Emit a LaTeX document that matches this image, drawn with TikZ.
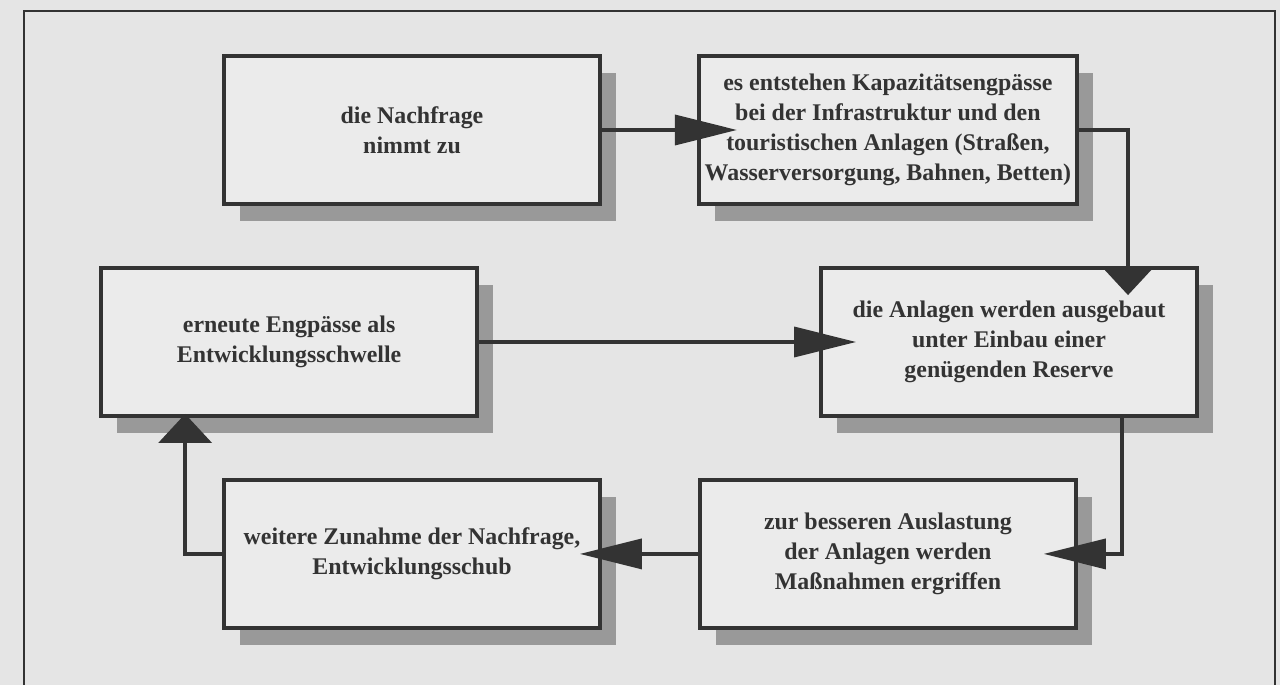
\documentclass[tikz,border=0pt]{standalone}
\usepackage{fontspec}
\setmainfont{Liberation Serif}
\usetikzlibrary{arrows.meta,calc,shadows}

\tikzstyle{block} = [draw, rectangle, minimum height=2.96cm, minimum width=7.52cm,
                     align=center, font=\fontsize{13.6}{17}\selectfont\bfseries]
\tikzstyle{conn} = [line width=2pt, -{Triangle[length=1.24cm,width=0.6cm]}]
\tikzstyle{connv} = [line width=2pt, -{Triangle[length=0.58cm,width=1.06cm]}]

\begin{document}
\begin{tikzpicture} [x=0.02cm, y=-0.02cm, node distance=2cm]

\def\colL{black!80};
\def\fillB{black!8};
\def\colSh{black!40};
\def\colBg{black!10};

\useasboundingbox (0,0) rectangle (1280,685);
\fill[\colBg] (0,0) rectangle (1280,685);

% frame
\draw[\colL,line width=1.1pt]
     (24,685) -- (24,11) -- (1275,11) -- (1275,685);

\tikzset{shade box/.style={drop shadow={shadow xshift=0.32cm,
         shadow yshift=-0.34cm, fill=\colSh, opacity=1}}}

\node[block,shade box,line width=2.2pt,
      draw=\colL,fill=\fillB,text=\colL]
      (nachfrage) at (412,130) {die Nachfrage\\nimmt zu};

\node[block,shade box,line width=2.2pt,
      right of=nachfrage,node distance=9.52cm,
      draw=\colL,fill=\fillB,text=\colL]
      (engpass) {es entstehen Kapazitätsengpässe\\bei der Infrastruktur und den\\touristischen Anlagen (Straßen,\\Wasserversorgung, Bahnen, Betten)};

\node[block,shade box,line width=2.2pt,
      draw=\colL,fill=\fillB,text=\colL]
      (ausbau) at (1009,342) {die Anlagen werden ausgebaut\\unter Einbau einer\\genügenden Reserve};

\node[block,shade box,line width=2.2pt,
      left of=ausbau,node distance=14.4cm,
      draw=\colL,fill=\fillB,text=\colL]
      (schwelle) {erneute Engpässe als\\Entwicklungsschwelle};

\node[block,shade box,line width=2.2pt,
      below of=engpass,node distance=8.48cm,
      draw=\colL,fill=\fillB,text=\colL]
      (auslastung) {zur besseren Auslastung\\der Anlagen werden\\Maßnahmen ergriffen};

\node[block,shade box,line width=2.2pt,
      left of=auslastung,node distance=9.52cm,
      draw=\colL,fill=\fillB,text=\colL]
      (schub) {weitere Zunahme der Nachfrage,\\Entwicklungsschub};

\draw[conn,\colL]
     (nachfrage.east) -- ($(engpass.west)+(40,0)$);

\draw[connv,\colL]
     (engpass.east) -| ($(ausbau.north)+(119,29)$);

\draw[conn,\colL]
     (schwelle.east) -- ($(ausbau.west)+(37,0)$);

\draw[conn,\colL]
     ($(ausbau.south)+(113,0)$) |- ($(auslastung.east)+(-34,0)$);

\draw[conn,\colL]
     (auslastung.west) -- ($(schub.east)+(-22,0)$);

\draw[connv,\colL]
     (schub.west) -| ($(schwelle.south)+(-104,-4)$);

\end{tikzpicture}
\end{document}
